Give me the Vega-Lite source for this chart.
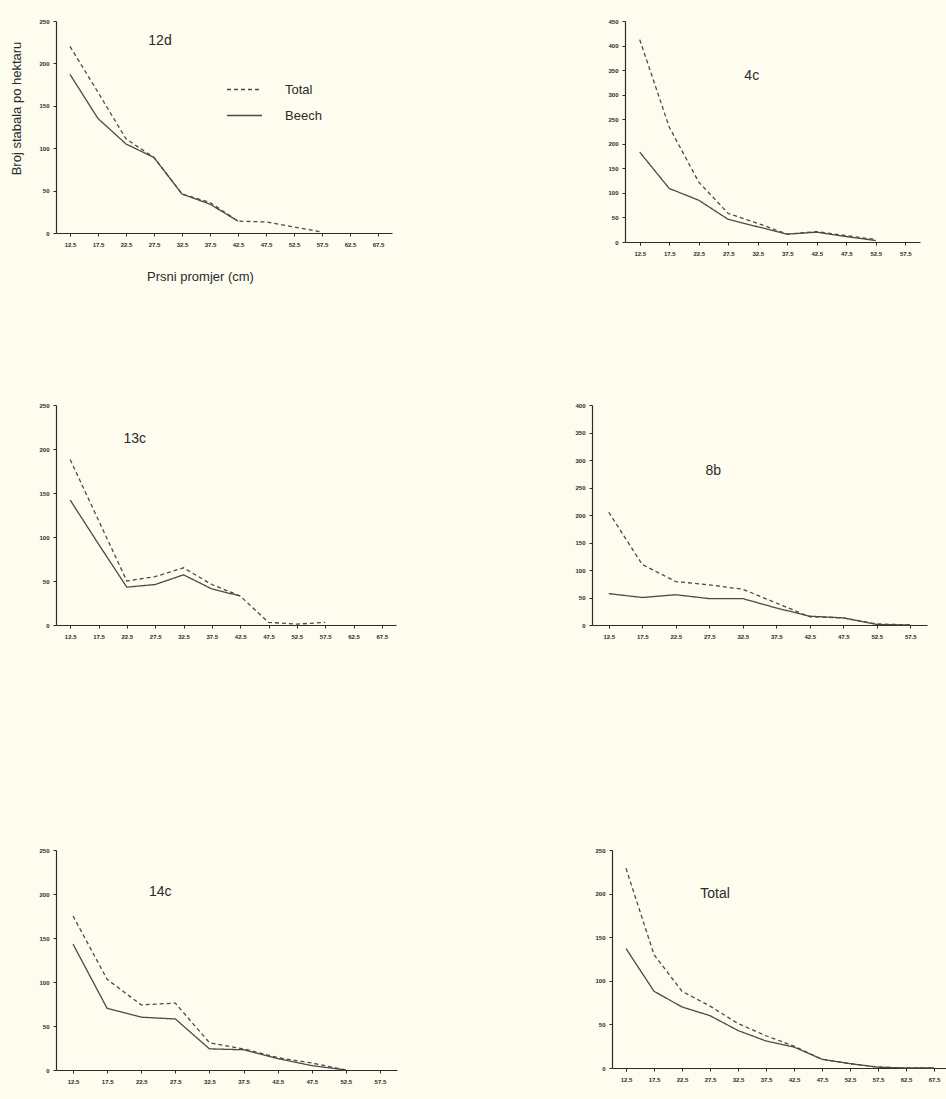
{
  "$schema": "https://vega.github.io/schema/vega-lite/v6.json",
  "padding": {"left": 9, "top": 18, "right": 0, "bottom": 20},
  "background": "#fdfcee",
  "config": {
    "view": {"stroke": null},
    "font": "Liberation Sans",
    "axis": {"grid": false, "domainColor": "#2b2b2b", "domainWidth": 1.2, "tickColor": "#2b2b2b", "tickSize": 3, "tickWidth": 1, "labelFontSize": 6, "labelColor": "#2b2b2b", "labelFontWeight": "bold", "labelOverlap": false, "labelFont": "Liberation Sans Narrow, Liberation Sans, sans-serif"},
    "axisX": {"labelAngle": 0, "tickBand": "extent", "labelPadding": 5, "minExtent": 20, "maxExtent": 20},
    "axisY": {"labelPadding": 4, "minExtent": 20, "maxExtent": 20},
    "line": {"color": "#4a4a4a", "strokeWidth": 1.3},
    "text": {"font": "Liberation Sans Narrow, Liberation Sans, sans-serif", "fontSize": 14, "color": "#2b2b2b"}
  },
  "data": {"values": [
    {"panel": "12d", "series": "Total", "d": "12.5", "n": 220},
    {"panel": "12d", "series": "Total", "d": "17.5", "n": 166},
    {"panel": "12d", "series": "Total", "d": "22.5", "n": 111},
    {"panel": "12d", "series": "Total", "d": "27.5", "n": 89},
    {"panel": "12d", "series": "Total", "d": "32.5", "n": 46},
    {"panel": "12d", "series": "Total", "d": "37.5", "n": 36},
    {"panel": "12d", "series": "Total", "d": "42.5", "n": 14},
    {"panel": "12d", "series": "Total", "d": "47.5", "n": 13},
    {"panel": "12d", "series": "Total", "d": "52.5", "n": 7},
    {"panel": "12d", "series": "Total", "d": "57.5", "n": 1},
    {"panel": "12d", "series": "Beech", "d": "12.5", "n": 187},
    {"panel": "12d", "series": "Beech", "d": "17.5", "n": 135},
    {"panel": "12d", "series": "Beech", "d": "22.5", "n": 105},
    {"panel": "12d", "series": "Beech", "d": "27.5", "n": 89},
    {"panel": "12d", "series": "Beech", "d": "32.5", "n": 46},
    {"panel": "12d", "series": "Beech", "d": "37.5", "n": 34},
    {"panel": "12d", "series": "Beech", "d": "42.5", "n": 14},

    {"panel": "4c", "series": "Total", "d": "12.5", "n": 412},
    {"panel": "4c", "series": "Total", "d": "17.5", "n": 234},
    {"panel": "4c", "series": "Total", "d": "22.5", "n": 122},
    {"panel": "4c", "series": "Total", "d": "27.5", "n": 58},
    {"panel": "4c", "series": "Total", "d": "32.5", "n": 38},
    {"panel": "4c", "series": "Total", "d": "37.5", "n": 16},
    {"panel": "4c", "series": "Total", "d": "42.5", "n": 21},
    {"panel": "4c", "series": "Total", "d": "47.5", "n": 13},
    {"panel": "4c", "series": "Total", "d": "52.5", "n": 5},
    {"panel": "4c", "series": "Beech", "d": "12.5", "n": 183},
    {"panel": "4c", "series": "Beech", "d": "17.5", "n": 109},
    {"panel": "4c", "series": "Beech", "d": "22.5", "n": 85},
    {"panel": "4c", "series": "Beech", "d": "27.5", "n": 46},
    {"panel": "4c", "series": "Beech", "d": "32.5", "n": 31},
    {"panel": "4c", "series": "Beech", "d": "37.5", "n": 16},
    {"panel": "4c", "series": "Beech", "d": "42.5", "n": 20},
    {"panel": "4c", "series": "Beech", "d": "47.5", "n": 11},
    {"panel": "4c", "series": "Beech", "d": "52.5", "n": 3},

    {"panel": "13c", "series": "Total", "d": "12.5", "n": 188},
    {"panel": "13c", "series": "Total", "d": "17.5", "n": 119},
    {"panel": "13c", "series": "Total", "d": "22.5", "n": 50},
    {"panel": "13c", "series": "Total", "d": "27.5", "n": 55},
    {"panel": "13c", "series": "Total", "d": "32.5", "n": 65},
    {"panel": "13c", "series": "Total", "d": "37.5", "n": 46},
    {"panel": "13c", "series": "Total", "d": "42.5", "n": 33},
    {"panel": "13c", "series": "Total", "d": "47.5", "n": 3},
    {"panel": "13c", "series": "Total", "d": "52.5", "n": 1},
    {"panel": "13c", "series": "Total", "d": "57.5", "n": 3},
    {"panel": "13c", "series": "Beech", "d": "12.5", "n": 142},
    {"panel": "13c", "series": "Beech", "d": "17.5", "n": 92},
    {"panel": "13c", "series": "Beech", "d": "22.5", "n": 43},
    {"panel": "13c", "series": "Beech", "d": "27.5", "n": 46},
    {"panel": "13c", "series": "Beech", "d": "32.5", "n": 57},
    {"panel": "13c", "series": "Beech", "d": "37.5", "n": 41},
    {"panel": "13c", "series": "Beech", "d": "42.5", "n": 33},

    {"panel": "8b", "series": "Total", "d": "12.5", "n": 205},
    {"panel": "8b", "series": "Total", "d": "17.5", "n": 110},
    {"panel": "8b", "series": "Total", "d": "22.5", "n": 79},
    {"panel": "8b", "series": "Total", "d": "27.5", "n": 73},
    {"panel": "8b", "series": "Total", "d": "32.5", "n": 65},
    {"panel": "8b", "series": "Total", "d": "37.5", "n": 40},
    {"panel": "8b", "series": "Total", "d": "42.5", "n": 15},
    {"panel": "8b", "series": "Total", "d": "47.5", "n": 13},
    {"panel": "8b", "series": "Total", "d": "52.5", "n": 2},
    {"panel": "8b", "series": "Total", "d": "57.5", "n": 0},
    {"panel": "8b", "series": "Beech", "d": "12.5", "n": 57},
    {"panel": "8b", "series": "Beech", "d": "17.5", "n": 50},
    {"panel": "8b", "series": "Beech", "d": "22.5", "n": 55},
    {"panel": "8b", "series": "Beech", "d": "27.5", "n": 48},
    {"panel": "8b", "series": "Beech", "d": "32.5", "n": 48},
    {"panel": "8b", "series": "Beech", "d": "37.5", "n": 31},
    {"panel": "8b", "series": "Beech", "d": "42.5", "n": 16},
    {"panel": "8b", "series": "Beech", "d": "47.5", "n": 13},
    {"panel": "8b", "series": "Beech", "d": "52.5", "n": 1},
    {"panel": "8b", "series": "Beech", "d": "57.5", "n": 0},

    {"panel": "14c", "series": "Total", "d": "12.5", "n": 175},
    {"panel": "14c", "series": "Total", "d": "17.5", "n": 103},
    {"panel": "14c", "series": "Total", "d": "22.5", "n": 74},
    {"panel": "14c", "series": "Total", "d": "27.5", "n": 76},
    {"panel": "14c", "series": "Total", "d": "32.5", "n": 31},
    {"panel": "14c", "series": "Total", "d": "37.5", "n": 24},
    {"panel": "14c", "series": "Total", "d": "42.5", "n": 14},
    {"panel": "14c", "series": "Total", "d": "47.5", "n": 8},
    {"panel": "14c", "series": "Total", "d": "52.5", "n": 0},
    {"panel": "14c", "series": "Beech", "d": "12.5", "n": 143},
    {"panel": "14c", "series": "Beech", "d": "17.5", "n": 70},
    {"panel": "14c", "series": "Beech", "d": "22.5", "n": 60},
    {"panel": "14c", "series": "Beech", "d": "27.5", "n": 58},
    {"panel": "14c", "series": "Beech", "d": "32.5", "n": 24},
    {"panel": "14c", "series": "Beech", "d": "37.5", "n": 23},
    {"panel": "14c", "series": "Beech", "d": "42.5", "n": 13},
    {"panel": "14c", "series": "Beech", "d": "47.5", "n": 5},
    {"panel": "14c", "series": "Beech", "d": "52.5", "n": 0},

    {"panel": "Total", "series": "Total", "d": "12.5", "n": 229},
    {"panel": "Total", "series": "Total", "d": "17.5", "n": 130},
    {"panel": "Total", "series": "Total", "d": "22.5", "n": 88},
    {"panel": "Total", "series": "Total", "d": "27.5", "n": 71},
    {"panel": "Total", "series": "Total", "d": "32.5", "n": 51},
    {"panel": "Total", "series": "Total", "d": "37.5", "n": 37},
    {"panel": "Total", "series": "Total", "d": "42.5", "n": 25},
    {"panel": "Total", "series": "Total", "d": "47.5", "n": 10},
    {"panel": "Total", "series": "Total", "d": "52.5", "n": 5},
    {"panel": "Total", "series": "Total", "d": "57.5", "n": 1},
    {"panel": "Total", "series": "Total", "d": "62.5", "n": 0},
    {"panel": "Total", "series": "Total", "d": "67.5", "n": 0},
    {"panel": "Total", "series": "Beech", "d": "12.5", "n": 137},
    {"panel": "Total", "series": "Beech", "d": "17.5", "n": 88},
    {"panel": "Total", "series": "Beech", "d": "22.5", "n": 70},
    {"panel": "Total", "series": "Beech", "d": "27.5", "n": 60},
    {"panel": "Total", "series": "Beech", "d": "32.5", "n": 43},
    {"panel": "Total", "series": "Beech", "d": "37.5", "n": 31},
    {"panel": "Total", "series": "Beech", "d": "42.5", "n": 24},
    {"panel": "Total", "series": "Beech", "d": "47.5", "n": 10},
    {"panel": "Total", "series": "Beech", "d": "52.5", "n": 5},
    {"panel": "Total", "series": "Beech", "d": "57.5", "n": 1},
    {"panel": "Total", "series": "Beech", "d": "62.5", "n": 0},
    {"panel": "Total", "series": "Beech", "d": "67.5", "n": 0}
  ]},
  "spacing": 202,
  "resolve": {"scale": {"strokeDash": "independent"}, "legend": {"strokeDash": "independent"}},
  "vconcat": [
    {
      "spacing": 119,
      "resolve": {"scale": {"strokeDash": "independent"}, "legend": {"strokeDash": "independent"}},
      "vconcat": [
        {
          "spacing": 213,
          "resolve": {"scale": {"strokeDash": "independent"}, "legend": {"strokeDash": "independent"}},
          "hconcat": [
            {
              "width": 336, "height": 212,
              "layer": [
                {
                  "transform": [{"filter": {"field": "panel", "equal": "12d"}}],
                  "mark": {"type": "line"},
                  "encoding": {
                    "x": {"field": "d", "type": "ordinal", "scale": {"domain": ["12.5","17.5","22.5","27.5","32.5","37.5","42.5","47.5","52.5","57.5","62.5","67.5"], "paddingInner": 0, "paddingOuter": 0},
                          "axis": {"labelOverlap": false, "title": "Prsni promjer (cm)", "titleFont": "Liberation Sans Narrow, Liberation Sans, sans-serif", "titleFontSize": 13, "titleFontWeight": "normal", "titleColor": "#2b2b2b", "titleX": 144, "titleY": 43, "titleBaseline": "middle", "titleAlign": "center"}},
                    "y": {"field": "n", "type": "quantitative", "scale": {"domain": [0, 250], "nice": false},
                          "axis": {"values": [0, 50, 100, 150, 200, 250], "tickCount": 20, "labelOverlap": false, "minExtent": 47, "maxExtent": 47, "title": "Broj stabala po hektaru", "titleFont": "Liberation Sans Narrow, Liberation Sans, sans-serif", "titleFontSize": 13, "titleFontWeight": "normal", "titleColor": "#2b2b2b", "titleAngle": -90, "titleX": -40, "titleY": 87, "titleBaseline": "middle", "titleAlign": "center"}},
                    "strokeDash": {"field": "series", "type": "nominal", "scale": {"domain": ["Total", "Beech"], "range": [[4, 3], [1, 0]]},
                          "legend": {"orient": "none", "legendX": 170, "legendY": 50, "title": null, "symbolType": "stroke", "symbolSize": 1225, "symbolStrokeWidth": 1.3, "symbolStrokeColor": "#4a4a4a", "labelFont": "Liberation Sans Narrow, Liberation Sans, sans-serif", "labelFontSize": 13, "labelColor": "#2b2b2b", "labelOffset": 22, "rowPadding": -11}}
                  }
                },
                {
                  "data": {"values": [{"label": "12d"}]},
                  "mark": {"type": "text", "dx": 6},
                  "encoding": {"x": {"datum": "27.5"}, "y": {"datum": 226}, "text": {"field": "label"}}
                }
              ]
            },
            {
              "width": 295, "height": 221,
              "layer": [
                {
                  "transform": [{"filter": {"field": "panel", "equal": "4c"}}],
                  "mark": {"type": "line"},
                  "encoding": {
                    "x": {"field": "d", "type": "ordinal", "scale": {"domain": ["12.5","17.5","22.5","27.5","32.5","37.5","42.5","47.5","52.5","57.5"], "paddingInner": 0, "paddingOuter": 0}, "axis": {"title": null, "labelOverlap": false}},
                    "y": {"field": "n", "type": "quantitative", "scale": {"domain": [0, 450], "nice": false}, "axis": {"values": [0, 50, 100, 150, 200, 250, 300, 350, 400, 450], "tickCount": 20, "labelOverlap": false, "title": null}},
                    "strokeDash": {"field": "series", "type": "nominal", "scale": {"domain": ["Total", "Beech"], "range": [[4, 3], [1, 0]]}, "legend": null}
                  }
                },
                {
                  "data": {"values": [{"label": "4c"}]},
                  "mark": {"type": "text", "dx": -6},
                  "encoding": {"x": {"datum": "32.5"}, "y": {"datum": 338}, "text": {"field": "label"}}
                }
              ]
            }
          ]
        },
        {
          "spacing": 176,
          "resolve": {"scale": {"strokeDash": "independent"}, "legend": {"strokeDash": "independent"}},
          "hconcat": [
            {
              "width": 340, "height": 220,
              "layer": [
                {
                  "transform": [{"filter": {"field": "panel", "equal": "13c"}}],
                  "mark": {"type": "line"},
                  "encoding": {
                    "x": {"field": "d", "type": "ordinal", "scale": {"domain": ["12.5","17.5","22.5","27.5","32.5","37.5","42.5","47.5","52.5","57.5","62.5","67.5"], "paddingInner": 0, "paddingOuter": 0}, "axis": {"title": null, "labelOverlap": false}},
                    "y": {"field": "n", "type": "quantitative", "scale": {"domain": [0, 250], "nice": false}, "axis": {"values": [0, 50, 100, 150, 200, 250], "tickCount": 20, "labelOverlap": false, "title": null, "minExtent": 47, "maxExtent": 47}},
                    "strokeDash": {"field": "series", "type": "nominal", "scale": {"domain": ["Total", "Beech"], "range": [[4, 3], [1, 0]]}, "legend": null}
                  }
                },
                {
                  "data": {"values": [{"label": "13c"}]},
                  "mark": {"type": "text", "dx": 8},
                  "encoding": {"x": {"datum": "22.5"}, "y": {"datum": 211}, "text": {"field": "label"}}
                }
              ]
            },
            {
              "width": 335, "height": 220,
              "layer": [
                {
                  "transform": [{"filter": {"field": "panel", "equal": "8b"}}],
                  "mark": {"type": "line"},
                  "encoding": {
                    "x": {"field": "d", "type": "ordinal", "scale": {"domain": ["12.5","17.5","22.5","27.5","32.5","37.5","42.5","47.5","52.5","57.5"], "paddingInner": 0, "paddingOuter": 0}, "axis": {"title": null, "labelOverlap": false}},
                    "y": {"field": "n", "type": "quantitative", "scale": {"domain": [0, 400], "nice": false}, "axis": {"values": [0, 50, 100, 150, 200, 250, 300, 350, 400], "tickCount": 20, "labelOverlap": false, "title": null}},
                    "strokeDash": {"field": "series", "type": "nominal", "scale": {"domain": ["Total", "Beech"], "range": [[4, 3], [1, 0]]}, "legend": null}
                  }
                },
                {
                  "data": {"values": [{"label": "8b"}]},
                  "mark": {"type": "text", "dx": 4},
                  "encoding": {"x": {"datum": "27.5"}, "y": {"datum": 280}, "text": {"field": "label"}}
                }
              ]
            }
          ]
        }
      ]
    },
    {
      "spacing": 195,
      "resolve": {"scale": {"strokeDash": "independent"}, "legend": {"strokeDash": "independent"}},
      "hconcat": [
        {
          "width": 341, "height": 220,
          "layer": [
            {
              "transform": [{"filter": {"field": "panel", "equal": "14c"}}],
              "mark": {"type": "line"},
              "encoding": {
                "x": {"field": "d", "type": "ordinal", "scale": {"domain": ["12.5","17.5","22.5","27.5","32.5","37.5","42.5","47.5","52.5","57.5"], "paddingInner": 0, "paddingOuter": 0}, "axis": {"title": null, "labelOverlap": false}},
                "y": {"field": "n", "type": "quantitative", "scale": {"domain": [0, 250], "nice": false}, "axis": {"values": [0, 50, 100, 150, 200, 250], "tickCount": 20, "labelOverlap": false, "title": null, "minExtent": 47, "maxExtent": 47}},
                "strokeDash": {"field": "series", "type": "nominal", "scale": {"domain": ["Total", "Beech"], "range": [[4, 3], [1, 0]]}, "legend": null}
              }
            },
            {
              "data": {"values": [{"label": "14c"}]},
              "mark": {"type": "text", "dx": 19},
              "encoding": {"x": {"datum": "22.5"}, "y": {"datum": 202}, "text": {"field": "label"}}
            }
          ]
        },
        {
          "width": 336, "height": 218,
          "layer": [
            {
              "transform": [{"filter": {"field": "panel", "equal": "Total"}}],
              "mark": {"type": "line"},
              "encoding": {
                "x": {"field": "d", "type": "ordinal", "scale": {"domain": ["12.5","17.5","22.5","27.5","32.5","37.5","42.5","47.5","52.5","57.5","62.5","67.5"], "paddingInner": 0, "paddingOuter": 0}, "axis": {"title": null, "labelOverlap": false}},
                "y": {"field": "n", "type": "quantitative", "scale": {"domain": [0, 250], "nice": false}, "axis": {"values": [0, 50, 100, 150, 200, 250], "tickCount": 20, "labelOverlap": false, "title": null}},
                "strokeDash": {"field": "series", "type": "nominal", "scale": {"domain": ["Total", "Beech"], "range": [[4, 3], [1, 0]]}, "legend": null}
              }
            },
            {
              "data": {"values": [{"label": "Total"}]},
              "mark": {"type": "text", "dx": 5},
              "encoding": {"x": {"datum": "27.5"}, "y": {"datum": 200}, "text": {"field": "label"}}
            }
          ]
        }
      ]
    }
  ]
}
